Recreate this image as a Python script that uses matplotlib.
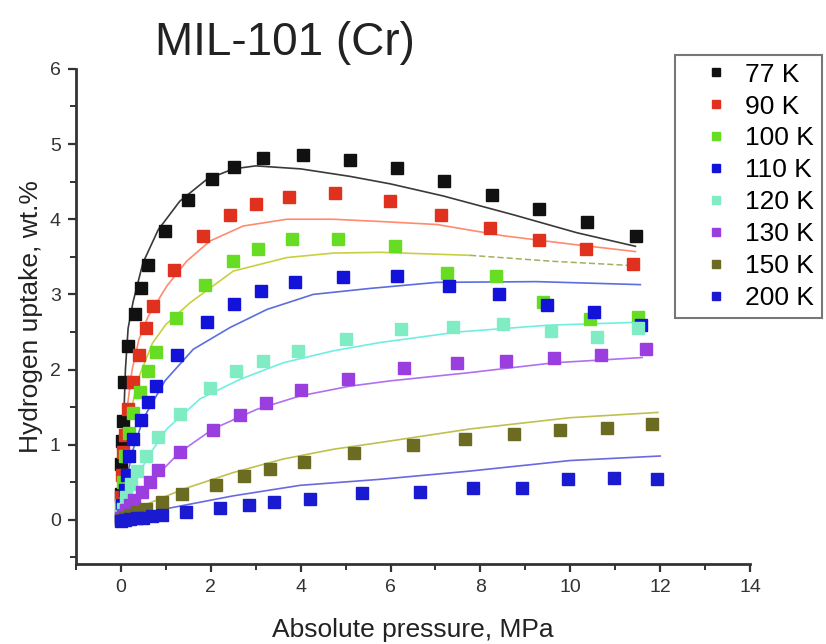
import numpy as np
import matplotlib
matplotlib.use("Agg")
import matplotlib.pyplot as plt
from matplotlib.ticker import MultipleLocator

plt.rcParams['font.family'] = ['Liberation Sans', 'DejaVu Sans']

# H2 uptake (wt.%) vs absolute pressure (MPa), measured points
labels = ["77 K", "90 K", "100 K", "110 K", "120 K", "130 K", "150 K", "200 K"]

p77 = [0.0, 0.01, 0.02, 0.04, 0.07, 0.16, 0.31, 0.44, 0.61, 0.97, 1.5, 2.02, 2.52, 3.17,
       4.06, 5.1, 6.14, 7.19, 8.26, 9.31, 10.38, 11.46]
u77 = [0.35, 0.75, 1.05, 1.32, 1.84, 2.31, 2.74, 3.08, 3.39, 3.85, 4.26, 4.53, 4.69, 4.81,
       4.86, 4.79, 4.68, 4.51, 4.32, 4.13, 3.96, 3.78]

p90 = [0.0, 0.02, 0.05, 0.1, 0.16, 0.26, 0.41, 0.56, 0.72, 1.18, 1.83, 2.43, 3.0, 3.73,
       4.77, 5.99, 7.12, 8.22, 9.31, 10.36, 11.4]
u90 = [0.3, 0.6, 0.9, 1.13, 1.48, 1.84, 2.2, 2.55, 2.85, 3.32, 3.78, 4.05, 4.2, 4.3,
       4.35, 4.24, 4.05, 3.88, 3.73, 3.61, 3.41]

p100 = [0.01, 0.04, 0.09, 0.17, 0.27, 0.42, 0.61, 0.79, 1.22, 1.87, 2.49, 3.06, 3.81, 4.84,
        6.1, 7.25, 8.35, 9.4, 10.45, 11.5]
u100 = [0.2, 0.5, 0.85, 1.15, 1.42, 1.7, 1.98, 2.23, 2.69, 3.13, 3.44, 3.6, 3.74, 3.74,
        3.64, 3.29, 3.25, 2.9, 2.67, 2.7]

p110 = [0.0, 0.03, 0.08, 0.13, 0.19, 0.27, 0.44, 0.61, 0.79, 1.25, 1.91, 2.52, 3.11, 3.87,
        4.94, 6.15, 7.3, 8.42, 9.49, 10.53, 11.57]
u110 = [0.05, 0.2, 0.4, 0.6, 0.85, 1.07, 1.33, 1.57, 1.78, 2.2, 2.63, 2.87, 3.04, 3.17,
        3.23, 3.25, 3.11, 3.0, 2.86, 2.76, 2.59]

p120 = [0.0, 0.05, 0.12, 0.22, 0.35, 0.55, 0.83, 1.31, 1.98, 2.56, 3.17, 3.93, 5.01, 6.23,
        7.4, 8.5, 9.57, 10.6, 11.5]
u120 = [0.05, 0.15, 0.3, 0.48, 0.65, 0.85, 1.1, 1.41, 1.76, 1.98, 2.12, 2.25, 2.41, 2.54,
        2.56, 2.6, 2.51, 2.43, 2.55]

p130 = [0.0, 0.05, 0.12, 0.2, 0.3, 0.46, 0.65, 0.83, 1.31, 2.04, 2.65, 3.23, 4.0, 5.06,
        6.31, 7.49, 8.58, 9.63, 10.69, 11.69]
u130 = [0.02, 0.07, 0.13, 0.2, 0.27, 0.37, 0.5, 0.67, 0.91, 1.2, 1.39, 1.55, 1.73, 1.87,
        2.02, 2.09, 2.12, 2.15, 2.2, 2.28]

p150 = [0.0, 0.1, 0.2, 0.35, 0.55, 0.91, 1.37, 2.12, 2.74, 3.32, 4.08, 5.19, 6.49, 7.66,
        8.74, 9.78, 10.82, 11.82]
u150 = [0.0, 0.03, 0.06, 0.1, 0.15, 0.24, 0.35, 0.47, 0.59, 0.68, 0.77, 0.89, 1.0, 1.07,
        1.14, 1.2, 1.22, 1.28]

p200 = [0.0, 0.1, 0.2, 0.35, 0.5, 0.7, 0.91, 1.45, 2.2, 2.85, 3.41, 4.21, 5.36, 6.66,
        7.83, 8.92, 9.96, 10.98, 11.94]
u200 = [-0.02, 0.0, 0.01, 0.02, 0.03, 0.05, 0.06, 0.11, 0.16, 0.2, 0.24, 0.28, 0.36, 0.37,
        0.43, 0.42, 0.54, 0.56, 0.54]

# model curves (fitted isotherms)
fp77 = [0.0, 0.03, 0.06, 0.1, 0.16, 0.27, 0.49, 0.83, 1.31, 1.91, 2.5, 3.0, 4.0, 5.1,
        6.0, 7.17, 8.73, 10.15, 11.45]
fu77 = [0.0, 0.6, 1.3, 2.0, 2.55, 2.9, 3.42, 3.86, 4.24, 4.53, 4.67, 4.71, 4.67, 4.57,
        4.47, 4.31, 4.06, 3.82, 3.64]

fp90 = [0.0, 0.05, 0.12, 0.25, 0.4, 0.6, 1.02, 1.46, 1.98, 2.72, 3.69, 4.72, 5.77, 7.03,
        8.51, 10.0, 11.45]
fu90 = [0.0, 0.8, 1.4, 2.0, 2.4, 2.7, 3.11, 3.44, 3.71, 3.91, 4.0, 4.0, 3.97, 3.93,
        3.78, 3.67, 3.57]

fp100 = [0.0, 0.1, 0.2, 0.4, 0.7, 1.0, 1.54, 2.5, 3.69, 4.73, 5.77, 7.77, 9.62, 11.5]
fu100 = [0.0, 0.9, 1.4, 1.9, 2.35, 2.6, 2.89, 3.31, 3.49, 3.55, 3.56, 3.52, 3.44, 3.38]

fp110 = [0.0, 0.1, 0.25, 0.5, 0.98, 1.61, 2.43, 3.25, 4.28, 5.55, 7.03, 9.25, 11.56]
fu110 = [0.0, 0.45, 0.9, 1.35, 1.85, 2.27, 2.56, 2.8, 3.0, 3.08, 3.16, 3.17, 3.13]

fp120 = [0.0, 0.2, 0.57, 1.02, 1.76, 2.65, 3.61, 4.73, 5.77, 7.5, 9.5, 11.55]
fu120 = [0.0, 0.35, 0.81, 1.21, 1.61, 1.87, 2.09, 2.25, 2.36, 2.5, 2.59, 2.63]

fp130 = [0.0, 0.24, 0.65, 1.31, 2.05, 3.02, 3.99, 5.1, 6.0, 7.77, 9.63, 11.6]
fu130 = [0.0, 0.15, 0.5, 0.9, 1.21, 1.47, 1.65, 1.78, 1.85, 1.96, 2.09, 2.16]

fp150 = [0.0, 0.5, 1.39, 2.5, 3.61, 4.73, 5.77, 7.77, 10.0, 11.95]
fu150 = [0.0, 0.19, 0.41, 0.63, 0.81, 0.94, 1.03, 1.21, 1.36, 1.43]

fp200 = [0.0, 1.02, 2.5, 3.99, 5.77, 7.77, 10.0, 12.0]
fu200 = [0.0, 0.15, 0.32, 0.46, 0.54, 0.65, 0.79, 0.85]

points = [(p77, u77), (p90, u90), (p100, u100), (p110, u110),
          (p120, u120), (p130, u130), (p150, u150), (p200, u200)]
curves = [(fp77, fu77), (fp90, fu90), (fp100, fu100), (fp110, fu110),
          (fp120, fu120), (fp130, fu130), (fp150, fu150), (fp200, fu200)]

marker_colors = ["#111111", "#e0301e", "#66dd22", "#1212d8",
                 "#80ecc4", "#9a3ee0", "#6b6b22", "#1a1ad0"]
line_colors = ["#3a3a3a", "#ff8a70", "#c8d040", "#5a6ee0",
               "#70eee0", "#b070f0", "#c0c050", "#6a6ae0"]

fig = plt.figure(figsize=(8.26, 6.44), dpi=100)
ax = fig.add_axes([0.092, 0.125, 0.816, 0.768])

for (fx, fy), lc in zip(curves, line_colors):
    if lc == "#c8d040":
        # 100 K curve turns dashed at high pressure
        ax.plot(fx[:12], fy[:12], color=lc, lw=1.2, zorder=2)
        ax.plot(fx[11:], fy[11:], color="#a0b060", lw=1.1, ls=(0, (4, 2)), zorder=2)
    else:
        ax.plot(fx, fy, color=lc, lw=1.2, zorder=2)

for (px, py), mc, lab in zip(points, marker_colors, labels):
    ax.plot(px, py, ls="none", marker="s", ms=8, mfc=mc, mec=mc, label=lab, zorder=3)

ax.set_xlim(-1, 14)
ax.set_ylim(-0.58, 6)
ax.spines["top"].set_visible(False)
ax.spines["right"].set_visible(False)
for s in ("left", "bottom"):
    ax.spines[s].set_linewidth(2.0)
    ax.spines[s].set_color("#333333")

ax.xaxis.set_major_locator(MultipleLocator(2))
ax.xaxis.set_minor_locator(MultipleLocator(1))
ax.yaxis.set_major_locator(MultipleLocator(1))
ax.yaxis.set_minor_locator(MultipleLocator(0.5))
ax.set_xticks(np.arange(0, 15, 2))
ax.set_yticks(np.arange(0, 7, 1))
ax.tick_params(which="major", direction="out", length=6, width=1.6, labelsize=14,
               colors="#333333", pad=5)
ax.tick_params(which="minor", direction="out", length=4, width=1.4, colors="#333333")

ax.set_xlabel("Absolute pressure, MPa", fontsize=19, color="#222222", labelpad=16)
ax.set_ylabel("Hydrogen uptake, wt.%", fontsize=19, color="#222222", labelpad=5)

fig.text(0.345, 0.933, "MIL-101 (Cr)", fontsize=33, color="#222222",
         ha="center", va="center")

leg = ax.legend(loc="upper right", bbox_to_anchor=(0.995, 0.915),
                bbox_transform=fig.transFigure, fontsize=19, markerscale=0.75,
                frameon=True, fancybox=False, borderpad=0.3, labelspacing=0.3,
                handlelength=2.5, handletextpad=-0.14, borderaxespad=0)
leg.get_frame().set_edgecolor("#555555")
leg.get_frame().set_linewidth(1.5)

fig.savefig("out.png", dpi=100)
